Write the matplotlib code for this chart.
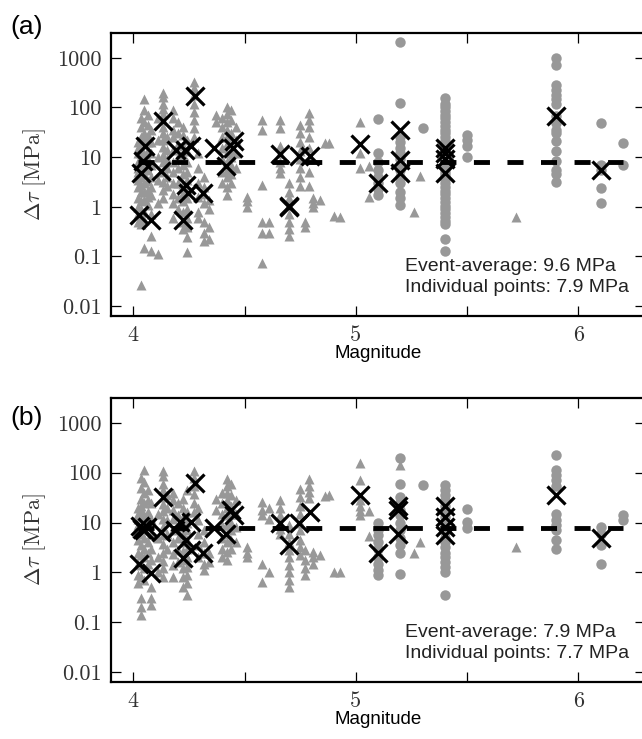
import numpy as np
import matplotlib
matplotlib.use("Agg")
import matplotlib.pyplot as plt

plt.rcParams['mathtext.fontset'] = 'cm'
plt.rcParams['font.family'] = ['Liberation Sans', 'DejaVu Sans']

# ---- panel (a) ----
a_tri_mag = [4.02, 4.035, 4.05, 4.065, 4.08, 4.11, 4.135, 4.15, 4.18, 4.2, 4.225, 4.24,
             4.275, 4.29, 4.32, 4.34, 4.37, 4.4, 4.42, 4.44, 4.46, 4.51, 4.58, 4.61,
             4.66, 4.70, 4.75, 4.77, 4.79, 4.81, 4.84, 4.86, 4.88, 4.90, 4.93, 5.02,
             5.06, 5.26, 5.29, 5.72]
a_tri_val = [[20, 15, 12, 8, 6, 5, 3.5, 2.5, 1.5, 1.0, 0.7, 0.5],
             [60, 40, 25, 19, 15, 12, 10, 6, 4, 2.8, 2, 1.3, 0.9, 0.6, 0.45, 0.027],
             [150, 90, 50, 30, 22, 18, 11, 7, 4.5, 3, 2, 1.4, 0.8, 0.55, 0.15],
             [70, 45, 28, 20, 14, 9, 5.5, 3.3, 2.2, 1.6, 1.1],
             [35, 20, 12, 7, 4, 2.5, 1.7, 0.7, 0.26, 0.13],
             [60, 22, 10, 3.5, 1.2, 0.11],
             [200, 160, 120, 95, 75, 55, 40, 30, 22, 16, 11, 8, 5, 3.2, 2.2, 1.5],
             [25, 14, 9, 6, 4, 2.6],
             [90, 60, 35, 25, 14, 8, 5, 3, 1.8, 1.2, 0.6],
             [50, 30, 18, 10, 6, 3, 1.5, 0.9],
             [40, 28, 17, 11, 7, 4.5, 2.9, 1.9, 1.3, 0.8, 0.5, 0.35],
             [22, 13, 8, 5, 3.5, 2.3, 1.5, 0.9, 0.6, 0.4, 0.25, 0.12],
             [330, 250, 180, 120, 80, 55, 38, 25],
             [12, 6, 3, 1.6, 0.8, 0.6],
             [4, 2.5, 1.8, 1.2, 0.5, 0.3, 0.2],
             [1.4, 0.9, 0.4, 0.22],
             [70, 50],
             [60, 40, 25, 15, 9, 5, 3],
             [100, 75, 50, 35, 25, 18, 12, 8, 5.5, 4, 2.5, 1.7],
             [90, 55, 30, 20, 14, 10, 7, 4.5, 3],
             [40, 22, 12, 6],
             [1.6, 1.3, 1.0],
             [57, 36, 2.8, 0.5, 0.3, 0.075],
             [0.5, 0.3],
             [57, 38, 17, 12, 8, 6, 4.8],
             [3, 2, 1.5, 1.1, 0.7, 0.5, 0.35, 0.26],
             [45, 30, 20, 13, 9, 6, 4, 2.6],
             [0.5, 0.4],
             [78, 55, 40, 25, 15, 9, 5, 2.6],
             [1.5, 1.2, 1.0],
             [1.4],
             [19.5],
             [19],
             [0.64],
             [0.63],
             [52, 12, 6],
             [6.5, 1.6],
             [0.8],
             [4.2],
             [0.63]]
a_circ_mag = [5.10, 5.20, 5.30, 5.40, 5.50, 5.90, 6.10, 6.20]
a_circ_val = [[58, 12, 8, 5.5, 4, 3, 2.3, 1.7],
              [2100, 125, 25, 20, 15, 12, 9, 7, 5.5, 4, 3, 2, 1.5, 1.1],
              [38],
              [155, 120, 100, 85, 70, 60, 50, 42, 35, 30, 25, 21, 18, 15, 13, 11, 9.5,
               8, 7, 6, 5, 4.3, 3.6, 3, 2.5, 2.1, 1.8, 1.5, 1.25, 1.05, 0.9, 0.75,
               0.62, 0.52, 0.44, 0.22, 0.13],
              [28, 22, 17, 10],
              [1000, 730, 290, 230, 180, 145, 115, 66, 49, 36, 31, 21, 13, 8.3, 5.6, 4.5, 3.2],
              [49, 7, 5.5, 2.4, 1.2],
              [19, 7]]
a_x_mag = [4.028, 4.036, 4.044, 4.051, 4.081, 4.126, 4.133, 4.193, 4.223, 4.234, 4.238,
           4.245, 4.26, 4.276, 4.313, 4.365, 4.418, 4.448, 4.455, 4.66, 4.70, 4.70,
           4.743, 4.795, 5.02, 5.10, 5.20, 5.20, 5.20, 5.40, 5.40, 5.40, 5.40, 5.90, 6.10]
a_x_val = [0.69, 4.8, 8.3, 16.6, 0.55, 5.2, 53, 14, 0.55, 13.8, 2.8,
           1.9, 16.6, 170, 1.9, 15.4, 6.6, 15.4, 21, 11.3, 1.0, 1.05,
           10.5, 10.5, 18, 3.0, 36, 8.9, 4.8, 15.5, 12, 9, 4.8, 66, 5.6]
a_event_avg = 9.6
a_indiv = 7.9

# ---- panel (b) ----
b_tri_mag = [4.02, 4.035, 4.05, 4.065, 4.08, 4.11, 4.135, 4.15, 4.18, 4.2, 4.225, 4.24,
             4.275, 4.29, 4.32, 4.34, 4.37, 4.4, 4.42, 4.44, 4.46, 4.51, 4.58, 4.61,
             4.66, 4.70, 4.75, 4.77, 4.79, 4.81, 4.84, 4.86, 4.88, 4.90, 4.93, 5.02,
             5.06, 5.20, 5.26, 5.29, 5.72]
b_tri_val = [[20, 15, 12, 9, 7, 4.5, 2.5, 1.5, 0.9, 0.6],
             [80, 50, 30, 22, 18, 14, 11, 6, 3.5, 2.2, 1.4, 0.8, 0.3, 0.2, 0.14],
             [115, 65, 40, 25, 14, 9, 5, 3, 2, 1.2, 0.7],
             [45, 28, 16, 8, 4, 2.4, 1.5],
             [25, 12, 6, 3, 1.8, 0.5, 0.3, 0.22],
             [15, 5, 2, 1.0],
             [110, 85, 60, 45, 33, 24, 17, 12, 8, 5.5, 3.7, 2.5, 1.7, 1.2, 0.8],
             [35, 20, 11, 6, 3],
             [40, 28, 18, 12, 7, 4, 2.3, 1.4, 0.8],
             [25, 14, 8, 5, 2.8, 1.6],
             [30, 20, 13, 9, 6, 4, 2.7, 1.8, 1.2, 0.8, 0.5],
             [45, 16, 10, 7, 4.5, 3, 2, 1.3, 0.9, 0.6, 0.35],
             [110, 80, 55, 38, 25, 16],
             [20, 11, 6, 3.5, 2],
             [7, 4, 2.5, 1.5, 1.1],
             [2.4, 1.6],
             [30, 18],
             [40, 25, 15, 9, 5, 3, 2],
             [75, 55, 40, 28, 20, 14, 9, 6, 4, 2.6, 1.8],
             [60, 35, 22, 15, 10, 7, 4.5, 3],
             [28, 15, 8, 4],
             [3.2, 2.5, 2.0],
             [26, 18, 14, 1.5, 0.64],
             [20, 12, 1.0],
             [28, 20, 14, 10, 7.5, 6],
             [9, 6, 4, 2.8, 2, 1.4, 1.0, 0.7, 0.5],
             [47, 33, 22, 15, 10, 7, 4.5, 3.2, 2.2],
             [2.8, 1.8, 1.2, 0.9],
             [75, 55, 42, 31],
             [2.6, 2.0, 1.5],
             [2.2],
             [34],
             [35],
             [1.0],
             [1.0],
             [155, 72, 29, 22, 17, 14],
             [17, 5.3],
             [140],
             [2.4],
             [4.0],
             [3.2]]
b_circ_mag = [5.10, 5.20, 5.30, 5.40, 5.50, 5.90, 6.10, 6.20]
b_circ_val = [[10, 7, 5.5, 4, 3, 2, 1.5, 1.1, 0.9],
              [195, 60, 33, 25, 18, 14, 10, 7, 5, 3.5, 2.4, 0.93],
              [56],
              [56, 45, 35, 28, 22, 17, 13, 10, 8, 6.5, 5, 4, 3.2, 2.5, 2, 1.6, 1.3, 1.0, 0.35],
              [19, 10.5, 7.8],
              [230, 115, 90, 70, 55, 15, 11, 9, 7, 4.4, 3.0],
              [8.3, 6, 3.5, 1.5],
              [14, 11]]
b_x_mag = [4.028, 4.03, 4.04, 4.05, 4.06, 4.081, 4.126, 4.133, 4.186, 4.21, 4.223, 4.238,
           4.26, 4.26, 4.276, 4.313, 4.365, 4.418, 4.44, 4.455, 4.66, 4.70, 4.743, 4.795,
           5.02, 5.10, 5.19, 5.19, 5.19, 5.40, 5.40, 5.40, 5.40, 5.90, 6.10]
b_x_val = [1.5, 8.5, 7.5, 7, 8, 0.95, 6.6, 33, 7.1, 10.5, 1.9, 4.4,
           10.5, 2.8, 62, 2.4, 7.6, 6.0, 17.8, 14, 9.6, 3.5, 9.6, 16.6,
           36, 2.4, 22, 18, 5.8, 22, 13, 8.2, 5.5, 36, 4.8]
b_event_avg = 7.9
b_indiv = 7.7

panels = [
    ('(a)', a_tri_mag, a_tri_val, a_circ_mag, a_circ_val, a_x_mag, a_x_val, a_event_avg, a_indiv),
    ('(b)', b_tri_mag, b_tri_val, b_circ_mag, b_circ_val, b_x_mag, b_x_val, b_event_avg, b_indiv),
]

W, H = 642, 739
fig = plt.figure(figsize=(W / 100, H / 100), dpi=100)
gray = '#989898'
# the right spine sits just outside the picture, as in the original crop
boxes = [[111 / W, 1 - 316 / H, 534 / W, 283 / H],
         [111 / W, 1 - 682 / H, 534 / W, 284 / H]]
label_y = [1 - 27 / H, 1 - 418 / H]

for i, (lab, tm, tv, cm, cv, xm, xv, evavg, indiv) in enumerate(panels):
    ax = fig.add_axes(boxes[i])
    ax.set_yscale('log')

    tx = np.repeat(tm, [len(v) for v in tv])
    ty = np.concatenate([np.array(v, float) for v in tv])
    ax.plot(tx, ty, '^', color=gray, ms=7, mec='none', zorder=2)

    cx = np.repeat(cm, [len(v) for v in cv])
    cy = np.concatenate([np.array(v, float) for v in cv])
    ax.plot(cx, cy, 'o', color=gray, ms=7.5, mec='none', zorder=2)

    allm = np.concatenate([tx, cx])
    ax.plot([allm.min(), allm.max()], [indiv, indiv], color='black', lw=3.5,
            ls=(0, (3.3, 3.6)), zorder=3)

    ax.plot(xm, xv, 'x', color='black', ms=12.5, mew=2.3, zorder=4)

    ax.set_xlim(3.9, 6.3)
    ax.set_ylim(10 ** -2.2, 10 ** 3.5)
    ax.set_xticks([4, 4.5, 5, 5.5, 6])
    ax.set_xticklabels(['4', '', '5', '', '6'], fontfamily='cmr10', fontsize=16, color='#333333')
    ax.set_yticks([0.01, 0.1, 1, 10, 100, 1000])
    ax.set_yticklabels(['0.01', '0.1', '1', '10', '100', '1000'], fontfamily='cmr10',
                       fontsize=16, color='#333333')
    ax.minorticks_off()
    ax.tick_params(direction='in', length=7, width=0.9, top=True, right=True, pad=7)
    for s in ax.spines.values():
        s.set_linewidth(1.6)

    ax.set_xlabel('Magnitude', fontsize=13.5, labelpad=0)
    ax.set_ylabel(r'$\Delta\tau\ [\mathrm{MPa}]$', fontsize=16, color='#333333', labelpad=6)

    ax.text(0.551, 0.07, 'Event-average: %.1f MPa\nIndividual points: %.1f MPa' % (evavg, indiv),
            transform=ax.transAxes, ha='left', va='bottom', fontsize=14,
            linespacing=1.3, color='#222222')

    fig.text(10 / W, label_y[i], lab, ha='left', va='center', fontsize=19)

fig.savefig('out.png', dpi=100)
